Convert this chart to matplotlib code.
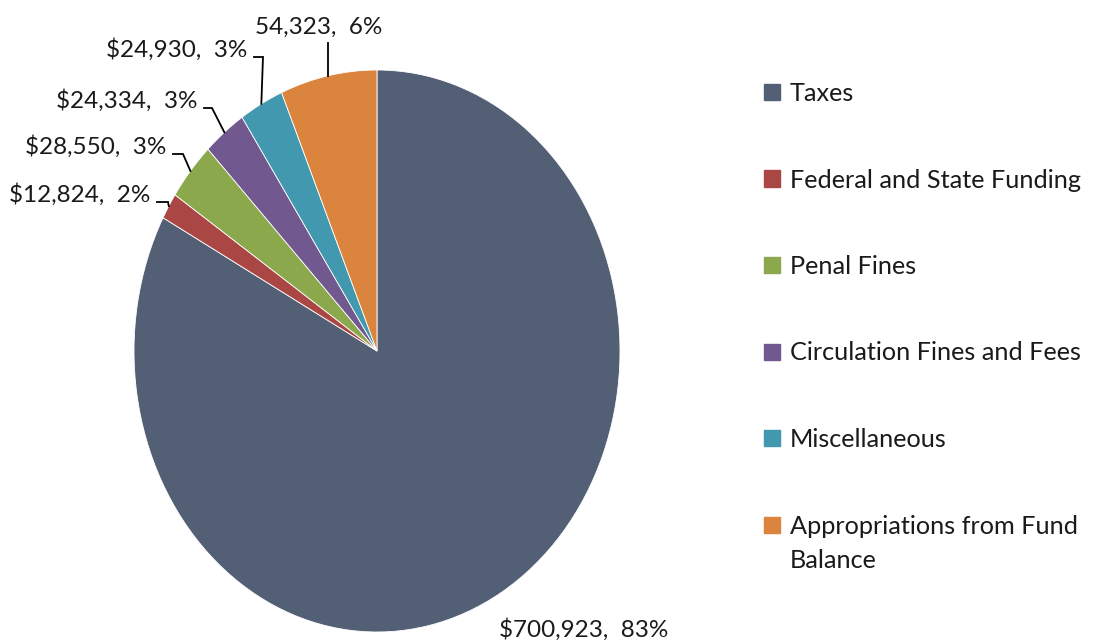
import matplotlib
matplotlib.use("Agg")
import matplotlib.pyplot as plt
import numpy as np

plt.rcParams["font.family"] = ["Lato", "DejaVu Sans"]

categories = ["Taxes", "Federal and State Funding", "Penal Fines",
              "Circulation Fines and Fees", "Miscellaneous",
              "Appropriations from Fund\nBalance"]
values = [700923, 12824, 28550, 24334, 24930, 54323]
value_labels = ["\\$700,923,  83%", "\\$12,824,  2%", "\\$28,550,  3%",
                "\\$24,334,  3%", "\\$24,930,  3%", "54,323,  6%"]
colors = ["#535F75", "#AA4644", "#8CA84D", "#71588F", "#4198AF", "#DB843D"]

W, H = 1098, 644
CX, CY, RX, RY = 377, 351, 243, 281   # pie ellipse in pixels
FS_LAB = 17.5
FS_LEG = 18.2
TXT = "#1a1a1a"


def px2data(px, py):
    return (px - CX) / RX, (CY - py) / RY


fig = plt.figure(figsize=(W / 100, H / 100), dpi=100)
ax = fig.add_axes([(CX - RX) / W, (H - CY - RY) / H, 2 * RX / W, 2 * RY / H])
wedges, _ = ax.pie(values, colors=colors, startangle=90, counterclock=False,
                   wedgeprops=dict(edgecolor="white", linewidth=0.6))
ax.set_aspect("auto")
ax.set_xlim(-1, 1)
ax.set_ylim(-1, 1)
ax.axis("off")

# label layout (pixels): elbow point, text right edge / centre, baseline
layout = [
    dict(kind="free", tx=584, ty=637),
    dict(kind="elbow", ex=168, ey=202, tx=150),
    dict(kind="elbow", ex=183, ey=154, tx=166),
    dict(kind="elbow", ex=212, ey=108, tx=197),
    dict(kind="elbow", ex=263, ey=57, tx=247),
    dict(kind="up", ey=43, tx=319, ty=34),
]

for w, lab, lay in zip(wedges, value_labels, layout):
    mid = np.deg2rad((w.theta1 + w.theta2) / 2)
    ax_, ay_ = np.cos(mid), np.sin(mid)
    if lay["kind"] == "free":
        x, y = px2data(lay["tx"], lay["ty"])
        ax.text(x, y, lab, ha="center", va="baseline", fontsize=FS_LAB, color=TXT)
    elif lay["kind"] == "elbow":
        ex, ey = px2data(lay["ex"], lay["ey"])
        sx, _ = px2data(lay["tx"] + 7, lay["ey"])
        ax.plot([sx, ex, ax_], [ey, ey, ay_], color="black", lw=1.3,
                clip_on=False, solid_joinstyle="miter")
        tx, ty = px2data(lay["tx"], lay["ey"])
        ax.text(tx, ty, lab, ha="right", va="baseline", fontsize=FS_LAB, color=TXT)
    else:
        _, ey = px2data(0, lay["ey"])
        ax.plot([ax_, ax_], [ay_, ey], color="black", lw=1.3, clip_on=False)
        tx, ty = px2data(lay["tx"], lay["ty"])
        ax.text(tx, ty, lab, ha="center", va="baseline", fontsize=FS_LAB, color=TXT)

# legend drawn by hand so the wrapped entry keeps its marker on the first line
for i, (cat, col) in enumerate(zip(categories, colors)):
    yc = 92 + i * 86.5
    fig.patches.append(plt.Rectangle((764 / W, 1 - (yc + 8) / H), 16 / W, 16 / H,
                                     transform=fig.transFigure, color=col))
    lines = cat.split("\n")
    for k, line in enumerate(lines):
        fig.text(790 / W, 1 - (yc + 9 + 35 * k) / H, line, ha="left",
                 va="baseline", fontsize=FS_LEG, color=TXT)

fig.savefig("out.png", dpi=100)
